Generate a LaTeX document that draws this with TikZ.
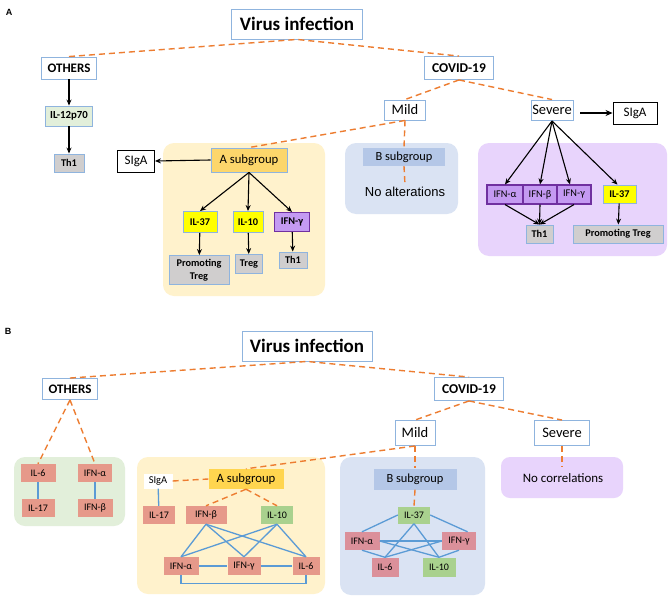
\documentclass[tikz,border=0pt]{standalone}
\usepackage{fontspec}
\setmainfont{Carlito}
\newfontfamily\arialf{Liberation Sans}
\usetikzlibrary{arrows.meta,calc}
\definecolor{dorange}{HTML}{ED7D31}
\definecolor{bblue}{HTML}{8FB4DE}
\definecolor{goldA}{HTML}{FCD66B}
\definecolor{goldB}{HTML}{FFD54F}
\definecolor{ypanel}{HTML}{FFF2CC}
\definecolor{bpanel}{HTML}{DAE3F3}
\definecolor{ppanel}{HTML}{E8D4FC}
\definecolor{gpanel}{HTML}{E2EFDA}
\definecolor{gbox}{HTML}{A9D18E}
\definecolor{salmon}{HTML}{E6998A}
\definecolor{pinkb}{HTML}{DB909A}
\definecolor{greyb}{HTML}{D0CECE}
\definecolor{pbox}{HTML}{C49AF2}
\definecolor{pborder}{HTML}{7030A0}
\definecolor{ybox}{HTML}{FFFF00}
\definecolor{bsub}{HTML}{B4C7E7}
\definecolor{lblue}{HTML}{5B9BD5}
\definecolor{lgbox}{HTML}{E2EFDA}
\tikzset{
  box/.style={draw=bblue, line width=0.9pt, inner sep=0pt, align=center, text=black},
  blk/.style={draw=black, line width=0.9pt, inner sep=0pt, align=center},
  flat/.style={inner sep=0pt, align=center, text=black},
  pbx/.style={draw=pborder, fill=pbox, line width=1.1pt, inner sep=0pt, align=center},
  od/.style={draw=dorange, line width=1.4pt, dash pattern=on 6pt off 4pt},
  arr/.style={-{Stealth[length=6pt,width=5pt]}, line width=1.1pt},
  bl/.style={draw=lblue, line width=1.3pt},
  fbig/.style={font=\fontsize{19}{21}\selectfont\bfseries},
  fmid/.style={font=\fontsize{13}{15}\selectfont\bfseries},
  freg/.style={font=\fontsize{14.5}{16}\selectfont},
  fsub/.style={font=\fontsize{12.7}{14}\selectfont},
  fsig/.style={font=\fontsize{13}{15}\selectfont},
  fsm/.style={font=\fontsize{10.3}{12}\selectfont\bfseries},
  fsr/.style={font=\fontsize{10}{11}\selectfont},
  fifn/.style={font=\fontsize{10.3}{12}\selectfont},
}
\begin{document}
\begin{tikzpicture}[x=1pt,y=-1pt]
\useasboundingbox[fill=white] (0,0) rectangle (669,597);
% ---------------- Panel A ----------------
\node[font=\arialf\bfseries\fontsize{9}{10}\selectfont] (labA) at (9,12) {A};
% panels
\fill[ypanel, rounded corners=11pt] (163,143) rectangle (325,296);
\fill[bpanel, rounded corners=11pt] (345,143) rectangle (458,214);
\fill[ppanel, rounded corners=11pt] (478,143) rectangle (667,256);
\node[box, fbig, minimum width=131, minimum height=30] (va) at (297,24) {Virus infection};
\node[box, fmid, minimum width=55, minimum height=22] (othA) at (69,68) {OTHERS};
\node[box, fill=lgbox, font=\fontsize{10.8}{12}\selectfont\bfseries, minimum width=47, minimum height=20] (il12) at (69,116) {IL-12p70};
\node[box, fill=greyb, fsm, minimum width=30, minimum height=18] (th1o) at (69,163) {Th1};
\node[box, font=\fontsize{13.5}{15}\selectfont\bfseries, minimum width=69, minimum height=23] (covA) at (459,68) {COVID-19};
\node[box, freg, minimum width=41, minimum height=20] (mildA) at (405,110) {Mild};
\node[box, freg, minimum width=42, minimum height=20] (sevA) at (552,110) {Severe};
\node[blk, fsig, minimum width=44, minimum height=22] (sigR) at (635,113) {SIgA};
% A subgroup
\node[box, fill=goldA, fsub, minimum width=76, minimum height=24] (asubA) at (249,160) {A subgroup};
\node[blk, fsig, minimum width=37, minimum height=22] (sigL) at (136,161) {SIgA};
\node[box, fill=ybox, fsm, minimum width=34, minimum height=21] (il37a) at (200,222) {IL-37};
\node[box, fill=ybox, fsm, minimum width=30, minimum height=21] (il10a) at (248,222) {IL-10};
\node[pbx, fsm, minimum width=35, minimum height=19] (ifnga) at (292,222) {IFN-γ};
\node[box, fill=greyb, font=\fontsize{10.3}{12.5}\selectfont\bfseries, minimum width=60, minimum height=29] (ptA) at (199,270) {Promoting\\Treg};
\node[box, fill=greyb, fsm, minimum width=27, minimum height=19] (tregA) at (249,264) {Treg};
\node[box, fill=greyb, fsm, minimum width=28, minimum height=16] (th1a) at (293,260) {Th1};
% B subgroup
\node[flat, fill=bsub, font=\fontsize{12.4}{14}\selectfont, minimum width=82, minimum height=18] (bsubA) at (404,157) {B subgroup};
\node[flat, font=\arialf\fontsize{13}{15}\selectfont, inner sep=2pt] (noalt) at (405,192) {No alterations};
% Severe
\node[pbx, fifn, minimum width=36, minimum height=19] (ifnaS) at (505,194.5) {IFN-α};
\node[pbx, fifn, minimum width=34, minimum height=19] (ifnbS) at (540,194.5) {IFN-β};
\node[pbx, fifn, minimum width=34, minimum height=19] (ifngS) at (574,194.5) {IFN-γ};
\node[box, fill=ybox, fsm, minimum width=33, minimum height=18] (il37S) at (619.5,194) {IL-37};
\node[box, fill=greyb, fsm, minimum width=27, minimum height=18] (th1S) at (539.5,234) {Th1};
\node[box, fill=greyb, fsm, minimum width=90, minimum height=18] (ptS) at (618,234) {Promoting Treg};
% connectors A
\draw[od] (othA.north) -- (va.south) -- (covA.north);
\draw[od] (covA.south) -- (mildA.north);
\draw[od] (covA.south) -- (sevA.north);
\draw[od] (mildA.south) -- (asubA.north);
\draw[od] (mildA.south) -- (bsubA.north);
\draw[od] (bsubA.south) -- (noalt.north);
\draw[arr] (othA) -- (il12);
\draw[arr] (il12) -- (th1o);
\draw[arr] (asubA.west) -- (sigL.east);
\draw[arr] (asubA.south) -- (il37a.north);
\draw[arr] (asubA.south) -- (il10a.north);
\draw[arr] (asubA.south) -- (ifnga.north);
\draw[arr] (il37a) -- (ptA);
\draw[arr] (il10a) -- (tregA);
\draw[arr] (ifnga) -- (th1a);
\coordinate (sevarr) at (580,113);
\draw[-{Stealth[length=7pt,width=6pt]}, line width=1.9pt] (sevarr) -- (sigR.west);
\coordinate (sevbot) at (552,121);
\draw[arr] (sevbot) -- (ifnaS.north);
\draw[arr] (sevbot) -- (ifnbS.north);
\draw[arr] (sevbot) -- ($(ifngS.north)+(-4,0)$);
\draw[arr] (sevbot) -- ($(il37S.north)+(-2,0)$);
\draw[arr] (ifnaS.south) -- (th1S.north);
\draw[arr] (ifnbS.south) -- (th1S.north);
\draw[arr] (ifngS.south) -- (th1S.north);
\draw[arr] (il37S) -- (ptS);
% ---------------- Panel B ----------------
\node[font=\arialf\bfseries\fontsize{9}{10}\selectfont] (labB) at (8,331) {B};
\fill[gpanel, rounded corners=11pt] (14,457) rectangle (125,526);
\fill[ypanel, rounded corners=11pt] (137,457) rectangle (325,594);
\fill[bpanel, rounded corners=11pt] (340,457) rectangle (485,595);
\fill[ppanel, rounded corners=9pt] (501,457) rectangle (623,498);
\node[box, fbig, minimum width=130, minimum height=30] (vb) at (307,346) {Virus infection};
\node[box, fmid, minimum width=55, minimum height=21] (othB) at (70,389) {OTHERS};
\node[box, font=\fontsize{13.5}{15}\selectfont\bfseries, minimum width=69, minimum height=23] (covB) at (469,389) {COVID-19};
\node[box, freg, minimum width=40, minimum height=25] (mildB) at (415,433) {Mild};
\node[box, freg, minimum width=55, minimum height=25] (sevB) at (562,433) {Severe};
% others
\node[flat, fill=salmon, fsr, minimum width=35, minimum height=18] (il6o) at (38,473) {IL-6};
\node[flat, fill=salmon, fsr, minimum width=34, minimum height=18] (ifnao) at (95,473) {IFN-α};
\node[flat, fill=salmon, fsr, minimum width=33, minimum height=18] (il17o) at (38,508) {IL-17};
\node[flat, fill=salmon, fsr, minimum width=35, minimum height=18] (ifnbo) at (95,508) {IFN-β};
% A subgroup B
\node[flat, fill=white, font=\fontsize{10.5}{12}\selectfont, minimum width=29, minimum height=15] (sigB) at (158,481) {SIgA};
\node[flat, fill=goldB, fsub, minimum width=75, minimum height=20] (asubB) at (246,479) {A subgroup};
\node[flat, fill=salmon, fsr, minimum width=32, minimum height=18] (il17b) at (159,515) {IL-17};
\node[flat, fill=salmon, fsr, minimum width=41, minimum height=18] (ifnbb) at (206,515) {IFN-β};
\node[flat, fill=gbox, fsr, minimum width=32, minimum height=18] (il10b) at (277,515) {IL-10};
\node[flat, fill=salmon, fsr, minimum width=35, minimum height=18] (ifnab) at (181,566) {IFN-α};
\node[flat, fill=salmon, fsr, minimum width=33, minimum height=18] (ifngb) at (244,566) {IFN-γ};
\node[flat, fill=salmon, fsr, minimum width=27, minimum height=18] (il6b) at (306,566) {IL-6};
% B subgroup B
\node[flat, fill=bsub, font=\fontsize{12.4}{14}\selectfont, minimum width=83, minimum height=21] (bsubB) at (415,479) {B subgroup};
\node[flat, fill=gbox, fsr, minimum width=32, minimum height=17] (il37B) at (414,515) {IL-37};
\node[flat, fill=pinkb, fsr, minimum width=35, minimum height=18] (ifnaB) at (362,541) {IFN-α};
\node[flat, fill=pinkb, fsr, minimum width=34, minimum height=18] (ifngB) at (459,541) {IFN-γ};
\node[flat, fill=pinkb, fsr, minimum width=27, minimum height=19] (il6B) at (385,567) {IL-6};
\node[flat, fill=gbox, fsr, minimum width=33, minimum height=19] (il10B) at (439,567) {IL-10};
% severe B
\node[flat, font=\fontsize{12.9}{14}\selectfont, inner sep=2pt] (nocor) at (563,478) {No correlations};
\coordinate (nctop) at (562,467);
% connectors B
\draw[od] (othB.north) -- (vb.south) -- (covB.north);
\draw[od] (covB.south) -- (mildB.north);
\draw[od] (covB.south) -- (sevB.north);
\draw[od] (sevB.south) -- (nctop);
\draw[od] (othB.south) -- (il6o.north);
\draw[od] (othB.south) -- (ifnao.north);
\draw[od] (mildB.south) -- (asubB.north);
\draw[od] (mildB.south) -- (bsubB.north);
\draw[od] (bsubB.south) -- (il37B.north);
\draw[od] (sigB.east) -- (asubB.west);
\draw[od] (asubB.south) -- (ifnbb.north);
\draw[od] (asubB.south) -- (il10b.north);
\draw[bl] (il6o) -- (il17o);
\draw[bl] (ifnao) -- (ifnbo);
\draw[bl] (sigB) -- (il17b);
\foreach \s in {ifnbb,il10b}{
  \foreach \t in {ifnab,ifngb,il6b}{
    \draw[bl] (\s.south) -- (\t.north);
  }
}
\draw[bl] (ifnab) -- (ifngb);
\draw[bl] (ifngb) -- (il6b);
\draw[bl] (ifnab.south) -- ++(0,8) -| (il6b.south);
\draw[bl] (il37B.west) -- (ifnaB.north);
\draw[bl] (il37B.east) -- ($(ifngB.north)!0.5!(ifngB.north east)$);
\draw[bl] (il37B.south) -- (il6B.north);
\draw[bl] (il37B.south) -- (il10B.north);
\draw[bl] (ifnaB.east) -- (ifngB.west);
\draw[bl] (ifnaB.east) -- (il10B.north);
\draw[bl] (ifngB.west) -- (il6B.north);
\draw[bl] (ifnaB.south) -- (il6B.north);
\draw[bl] (ifngB.south) -- (il10B.north);
\end{tikzpicture}
\end{document}
